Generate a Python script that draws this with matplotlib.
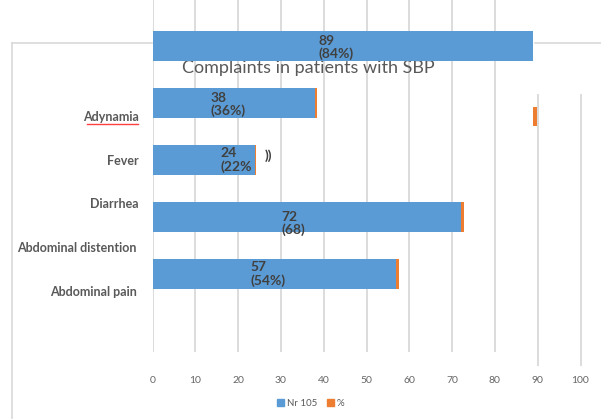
import matplotlib
matplotlib.use("Agg")
import matplotlib.pyplot as plt
from matplotlib.lines import Line2D
from matplotlib.patches import Patch

plt.rcParams['font.family'] = ['Lato', 'DejaVu Sans']

# ---- data ----
categories = ["Abdominal distention", "Adynamia", "Fever", "Diarrhea", "Abdominal pain"]
counts = [89, 38, 24, 72, 57]
pct_values = [0.84, 0.36, 0.22, 0.68, 0.54]
count_labels = ["89", "38", "24", "72", "57"]
pct_labels = ["(84%)", "(36%)", "(22%", "(68)", "(54%)"]
xticks = [0, 10, 20, 30, 40, 50, 60, 70, 80, 90, 100]
title = "Complaints in patients with SBP"
series_names = ["Nr 105", "%"]

# ---- layout (collage-like placement of the original) ----
W, H = 601, 419
fig = plt.figure(figsize=(W / 100, H / 100), dpi=100)
ax = fig.add_axes([152.5 / W, 1 - 352 / H, 428 / W, 352 / H])

BLUE = "#5b9bd5"
ORANGE = "#ed7d31"
GRID = "#d9d9d9"
TXT = "#404040"

ypos = list(range(len(categories)))
bar_h = 0.53
ax.set_xlim(0, 100)
ax.set_ylim((352 - 46) / 57, -46 / 57)

ax.barh(ypos, counts, height=bar_h, color=BLUE, zorder=2)
# orange (%) segments; the first one is displaced in the original picture
pct_y = [1.24, 1, 2, 3, 4]
pct_h = [0.33, bar_h, bar_h, bar_h, bar_h]
ax.barh(pct_y, pct_values, left=counts, height=pct_h, color=ORANGE, zorder=2)

# gridlines
for v in xticks:
    if v < 90:
        ax.axvline(v, color=GRID, lw=1.3, zorder=0.3)
    else:
        ax.vlines(v, (94 - 46) / 57, (366 - 46) / 57, color=GRID, lw=1.3,
                  zorder=0.3, clip_on=False)

# title (partly hidden behind the top bar)
ax.text(308 / W, 1 - 68.5 / H, title, transform=fig.transFigure, ha="center",
        va="center", fontsize=13, color="#595959", zorder=0.5)

# data labels
lab_dx = [-1.6, -1.3, 7.6, -3.0, -1.6]
lab_dy = [0.03, 0.03, 0.0, 0.11, 0.0]
for i, (c, p) in enumerate(zip(count_labels, pct_labels)):
    ax.text(counts[i] / 2 + lab_dx[i], ypos[i] + lab_dy[i], c + "\n" + p,
            ha="center", va="center", multialignment="left", fontsize=10,
            fontweight="bold", color=TXT, zorder=4, linespacing=1.05)
ax.text(26.3, 1.93, "))", ha="left", va="center", fontsize=10,
        fontweight="bold", color=TXT)

# category labels (offset from the bars as in the original)
cat_label_y = [3.544, 1.246, 2.018, 2.772, 4.316]
cat_label_x = [-3.8, -3.15, -3.15, -3.15, -3.6]
for i, name in enumerate(categories):
    ax.text(cat_label_x[i], cat_label_y[i], name, ha="right", va="center",
            fontsize=9, fontweight="bold", color="#595959", clip_on=False)
# spell-check underline under "Adynamia"
ax.plot([-15.2, -3.3], [1.36, 1.36], color="#ff4040", lw=1, clip_on=False)

ax.set_xticks(xticks)
ax.set_xticklabels([str(v) for v in xticks])
ax.tick_params(axis="x", length=0, pad=17, labelsize=7.5, labelcolor="#666666")
ax.set_yticks([])
for s in ax.spines.values():
    s.set_visible(False)
ax.patch.set_alpha(0)

# frame lines of the underlying chart
fig.add_artist(Line2D([12 / W, 12 / W], [1 - 43 / H, 0], color=GRID, lw=1.2))
fig.add_artist(Line2D([12 / W, 152 / W], [1 - 43 / H, 1 - 43 / H], color=GRID, lw=1.2))
fig.add_artist(Line2D([535 / W, 1], [1 - 43 / H, 1 - 43 / H], color=GRID, lw=1.2, zorder=0))

handles = [Patch(color=BLUE, label=series_names[0]), Patch(color=ORANGE, label=series_names[1])]
fig.legend(handles=handles, loc="center", bbox_to_anchor=(311 / W, 1 - 403 / H),
           ncol=2, frameon=False, fontsize=7, handlelength=0.7, handleheight=0.7,
           handletextpad=0.3, columnspacing=1.0, labelcolor="#595959")

fig.savefig("out.png", dpi=100)
